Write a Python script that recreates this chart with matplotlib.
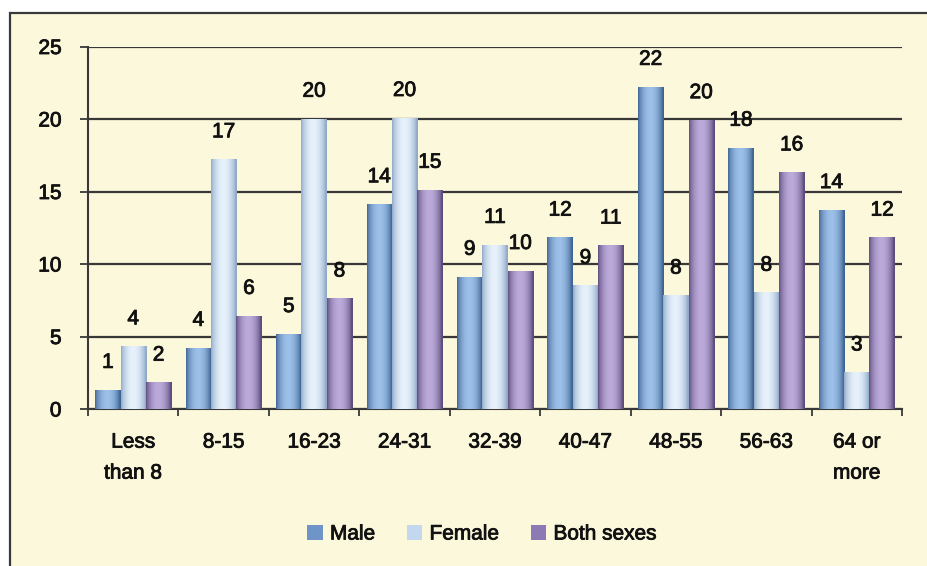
import numpy as np
import matplotlib
matplotlib.use("Agg")
import matplotlib.pyplot as plt
import matplotlib.patheffects as pe
from matplotlib.patches import Rectangle, Patch
from matplotlib.colors import to_rgb

plt.rcParams['font.family'] = ['Liberation Sans', 'DejaVu Sans']

# data
categories = ['Less\nthan 8', '8-15', '16-23', '24-31', '32-39', '40-47', '48-55', '56-63', '64 or\nmore']
male = [1.3, 4.2, 5.15, 14.1, 9.1, 11.8, 22.2, 18.0, 13.7]
female = [4.3, 17.2, 20.0, 20.05, 11.3, 8.5, 7.8, 8.0, 2.5]
both = [1.8, 6.4, 7.6, 15.1, 9.5, 11.25, 19.9, 16.3, 11.8]
male_labels = ['1', '4', '5', '14', '9', '12', '22', '18', '14']
female_labels = ['4', '17', '20', '20', '11', '9', '8', '8', '3']
both_labels = ['2', '6', '8', '15', '10', '11', '20', '16', '12']
series_names = ['Male', 'Female', 'Both sexes']

# (edge, centre, legend) colours for each series
styles = [
    ('#3f6594', '#9cc0e8', '#6f95c8'),
    ('#8fa9c9', '#e6f1fb', '#c3d7ee'),
    ('#5e4c7e', '#bcaadb', '#8d79b4'),
]
bg = '#fcf8dc'
fs = 15
bold_fx = [pe.withStroke(linewidth=0.6, foreground='#111111')]


def gradient(edge, centre, n=64):
    t = np.linspace(0, 1, n)
    w = np.sin(np.pi * np.clip(t * 1.05, 0, 1)) ** 0.7
    e, c = np.array(to_rgb(edge)), np.array(to_rgb(centre))
    return (e[None, :] * (1 - w[:, None]) + c[None, :] * w[:, None])[None, :, :]


fig = plt.figure(figsize=(9.27, 5.66), dpi=100)
fig.patch.set_facecolor('white')
frame = Rectangle((10 / 927, -0.05), 1.05, 1 + 0.05 - 13 / 566,
                  transform=fig.transFigure, facecolor=bg,
                  edgecolor='#3a3a3a', linewidth=1.6, zorder=-10)
fig.patches.append(frame)

ax = fig.add_axes([88 / 927, 1 - 409 / 566, 814 / 927, (409 - 46.5) / 566])
ax.patch.set_alpha(0)

x = np.arange(len(categories))
width = 0.28
for i, (vals, labs) in enumerate(zip([male, female, both],
                                     [male_labels, female_labels, both_labels])):
    edge, centre, _ = styles[i]
    bars = ax.bar(x + (i - 1) * width, vals, width, color='none', zorder=3)
    grad = gradient(edge, centre)
    for b, lab in zip(bars, labs):
        bx, bw, bh = b.get_x(), b.get_width(), b.get_height()
        ax.imshow(grad, extent=[bx, bx + bw, 0, bh], aspect='auto',
                  interpolation='bilinear', zorder=3)
        ax.annotate(lab, (bx + bw / 2, bh), xytext=(0, 20), textcoords='offset points',
                    ha='center', va='center', fontsize=fs, color='#111111', zorder=4,
                    path_effects=bold_fx)

ax.set_xlim(-0.5, len(categories) - 0.5)
ax.set_ylim(0, 25)
ax.set_yticks(np.arange(0, 26, 5))
ax.yaxis.grid(True, color='#383838', linewidth=1.6, zorder=1)
ax.set_axisbelow(True)

ax.set_xticks(x)
ax.set_xticklabels(categories, fontsize=fs, linespacing=1.8)
ax.set_xticks(np.arange(-0.5, len(categories)), minor=True)
ax.tick_params(axis='x', which='major', length=0, pad=17)
ax.tick_params(axis='x', which='minor', length=5, width=1.3, color='#383838')
ax.tick_params(axis='y', length=6, width=1.3, color='#383838', labelsize=fs, pad=13)
for lbl in ax.get_xticklabels() + ax.get_yticklabels():
    lbl.set_color('#111111')
    lbl.set_path_effects(bold_fx)

for s in ['top', 'right']:
    ax.spines[s].set_visible(False)
for s in ['left', 'bottom']:
    ax.spines[s].set_color('#383838')
    ax.spines[s].set_linewidth(1.5)

handles = [Patch(facecolor=st[2], edgecolor='none') for st in styles]
leg = fig.legend(handles, series_names, loc='center', bbox_to_anchor=(482 / 927, 1 - 534 / 566),
                 ncol=3, frameon=False, fontsize=fs, handlelength=0.75, handleheight=0.75,
                 handletextpad=0.35, columnspacing=1.5)
for t in leg.get_texts():
    t.set_color('#111111')
    t.set_path_effects(bold_fx)

fig.savefig('out.png', dpi=100, facecolor=fig.get_facecolor())
